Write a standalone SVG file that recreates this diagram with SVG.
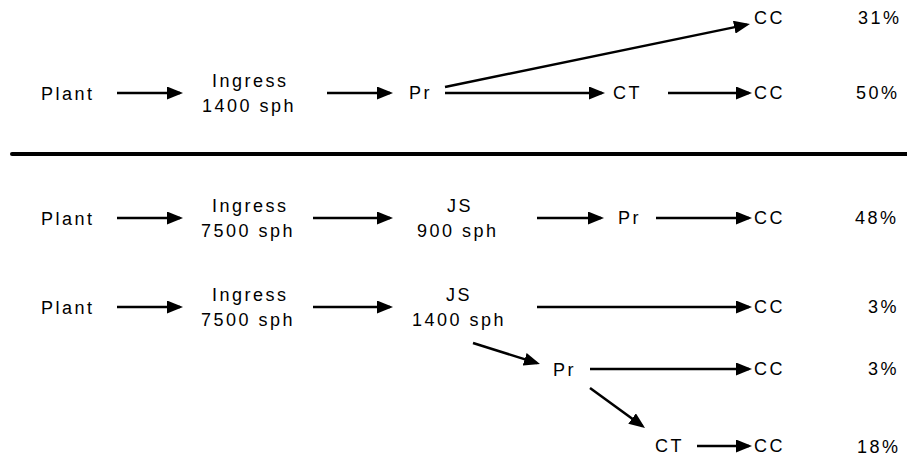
<svg xmlns="http://www.w3.org/2000/svg" width="907" height="456" viewBox="0 0 907 456">
  <style>
    text { font-family: "Liberation Sans", Arial, sans-serif; font-size: 18px; letter-spacing: 2.5px; fill: #000; }
    .arrow { stroke: #000; stroke-width: 2.5; fill: none; marker-end: url(#head); }
    .rule { stroke: #000; stroke-width: 4; stroke-linecap: round; }
  </style>
  <defs>
    <marker id="head" viewBox="0 0 16 13" markerWidth="16" markerHeight="13" refX="13" refY="6.5" orient="auto" markerUnits="userSpaceOnUse">
      <path d="M0,0 L16,6.5 L0,13 z" fill="#000"/>
    </marker>
  </defs>

  <!-- separator between scenarios -->
  <line class="rule" x1="12" y1="154" x2="909" y2="154"/>

  <!-- connectors -->
  <g id="connectors">
    <!-- scenario 1 -->
    <line class="arrow" x1="117" y1="93" x2="180" y2="93"/>
    <line class="arrow" x1="327" y1="93" x2="390" y2="93"/>
    <line class="arrow" x1="445" y1="87" x2="747" y2="24.6"/>
    <line class="arrow" x1="445" y1="93" x2="602" y2="93"/>
    <line class="arrow" x1="668" y1="93" x2="749" y2="93"/>
    <!-- scenario 2 -->
    <line class="arrow" x1="117" y1="218" x2="180" y2="218"/>
    <line class="arrow" x1="313" y1="218" x2="390" y2="218"/>
    <line class="arrow" x1="537" y1="218" x2="601" y2="218"/>
    <line class="arrow" x1="656" y1="218" x2="749" y2="218"/>
    <!-- scenario 3 -->
    <line class="arrow" x1="117" y1="307" x2="180" y2="307"/>
    <line class="arrow" x1="313" y1="307" x2="390" y2="307"/>
    <line class="arrow" x1="537" y1="307" x2="749" y2="307"/>
    <line class="arrow" x1="473" y1="343" x2="537.1" y2="363.1"/>
    <line class="arrow" x1="590" y1="369" x2="749" y2="369"/>
    <line class="arrow" x1="590" y1="388" x2="642.6" y2="426.2"/>
    <line class="arrow" x1="697" y1="446" x2="749" y2="446"/>
  </g>

  <!-- scenario 1 nodes -->
  <g id="s1-plant"><text x="41" y="100">Plant</text></g>
  <g id="s1-ingress"><text x="212" y="87">Ingress</text><text x="202" y="112">1400 sph</text></g>
  <g id="s1-pr"><text x="409" y="99">Pr</text></g>
  <g id="s1-cc-direct"><text x="754" y="24">CC</text></g>
  <g id="s1-pct-direct"><text x="858" y="24">31%</text></g>
  <g id="s1-ct"><text x="613" y="99">CT</text></g>
  <g id="s1-cc-ct"><text x="754" y="99">CC</text></g>
  <g id="s1-pct-ct"><text x="856" y="99">50%</text></g>

  <!-- scenario 2 nodes -->
  <g id="s2-plant"><text x="41" y="225">Plant</text></g>
  <g id="s2-ingress"><text x="212" y="212">Ingress</text><text x="201" y="237">7500 sph</text></g>
  <g id="s2-js"><text x="447" y="212">JS</text><text x="417" y="237">900 sph</text></g>
  <g id="s2-pr"><text x="618" y="224">Pr</text></g>
  <g id="s2-cc"><text x="754" y="224">CC</text></g>
  <g id="s2-pct"><text x="855" y="224">48%</text></g>

  <!-- scenario 3 nodes -->
  <g id="s3-plant"><text x="41" y="314">Plant</text></g>
  <g id="s3-ingress"><text x="212" y="301">Ingress</text><text x="201" y="326">7500 sph</text></g>
  <g id="s3-js"><text x="446" y="301">JS</text><text x="412" y="326">1400 sph</text></g>
  <g id="s3-cc-js"><text x="754" y="313">CC</text></g>
  <g id="s3-pct-js"><text x="868" y="313">3%</text></g>
  <g id="s3-pr"><text x="553" y="376">Pr</text></g>
  <g id="s3-cc-pr"><text x="754" y="375">CC</text></g>
  <g id="s3-pct-pr"><text x="868" y="375">3%</text></g>
  <g id="s3-ct"><text x="655" y="452">CT</text></g>
  <g id="s3-cc-ct"><text x="754" y="452">CC</text></g>
  <g id="s3-pct-ct"><text x="857" y="453">18%</text></g>
</svg>
